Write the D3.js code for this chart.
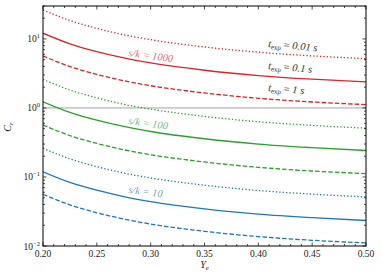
<!DOCTYPE html>
<html>
<head>
<meta charset="utf-8">
<script src="https://cdn.jsdelivr.net/npm/d3@7"></script>
<style>
  body { margin: 0; background: #fff; }
  text { font-family: "Liberation Serif", "DejaVu Serif", serif; }
</style>
</head>
<body>
<div id="vis"></div>
<script>
// frame
const FRAME_WIDTH = 382
const FRAME_HEIGHT = 279
const MARGINS = {left: 43, right: 16, top: 6, bottom: 33}

// data
const ye = [0.20, 0.225, 0.25, 0.275, 0.30, 0.35, 0.40, 0.45, 0.50]

const red_dotted  = [26.3, 18.5, 14.2, 11.5, 9.76, 7.65, 6.42, 5.68, 5.18]
const red_solid   = [12.1, 8.49, 6.53, 5.30, 4.49, 3.52, 2.95, 2.61, 2.38]
const red_dashed  = [5.67, 3.98, 3.06, 2.48, 2.10, 1.65, 1.38, 1.22, 1.12]
const green_dotted = [2.59, 1.82, 1.40, 1.13, 0.961, 0.754, 0.632, 0.559, 0.510]
const green_solid  = [1.23, 0.863, 0.664, 0.539, 0.456, 0.358, 0.300, 0.266, 0.242]
const green_dashed = [0.567, 0.398, 0.306, 0.248, 0.210, 0.165, 0.138, 0.122, 0.112]
const blue_dotted = [0.261, 0.183, 0.141, 0.114, 0.0968, 0.0760, 0.0637, 0.0564, 0.0514]
const blue_solid  = [0.119, 0.0835, 0.0643, 0.0521, 0.0441, 0.0346, 0.0290, 0.0257, 0.0234]
const blue_dashed = [0.0561, 0.0394, 0.0303, 0.0246, 0.0208, 0.0163, 0.0137, 0.0121, 0.0111]

const x_ticks = [0.20, 0.25, 0.30, 0.35, 0.40, 0.45, 0.50]
const y_ticks = [0.01, 0.1, 1, 10]
const y_tick_exp = ["−2", "−1", "0", "1"]

const sk_labels = ["1000", "100", "10"]
const t_labels = ["0.01", "0.1", "1"]

const RED = "#d62728", GREEN = "#2ca02c", BLUE = "#1f77b4"
const DOTTED = "1.3,2.1", DASHED = "4.6,2"

const series = [
  {v: red_dotted, c: RED, d: DOTTED}, {v: red_solid, c: RED, d: null}, {v: red_dashed, c: RED, d: DASHED},
  {v: green_dotted, c: GREEN, d: DOTTED}, {v: green_solid, c: GREEN, d: null}, {v: green_dashed, c: GREEN, d: DASHED},
  {v: blue_dotted, c: BLUE, d: DOTTED}, {v: blue_solid, c: BLUE, d: null}, {v: blue_dashed, c: BLUE, d: DASHED}
]

const svg = d3.select("#vis").append("svg")
  .attr("width", FRAME_WIDTH)
  .attr("height", FRAME_HEIGHT)

const x = d3.scaleLinear().domain([0.2, 0.5]).range([MARGINS.left, FRAME_WIDTH - MARGINS.right])
const y = d3.scaleLog().domain([0.01, 30]).range([FRAME_HEIGHT - MARGINS.bottom, MARGINS.top])

const x0 = x.range()[0], x1 = x.range()[1]
const yb = y.range()[0], yt = y.range()[1]

// clip
svg.append("clipPath").attr("id", "clip")
  .append("rect").attr("x", x0).attr("y", yt).attr("width", x1 - x0).attr("height", yb - yt)

// reference line at 1
svg.append("line")
  .attr("x1", x0).attr("x2", x1).attr("y1", y(1)).attr("y2", y(1))
  .attr("stroke", "#999").attr("stroke-width", 0.9)

// curves
const line = d3.line().x((d, i) => x(ye[i])).y(d => y(d)).curve(d3.curveMonotoneX)
svg.append("g").attr("clip-path", "url(#clip)")
  .selectAll("path").data(series).enter().append("path")
  .attr("d", s => line(s.v))
  .attr("fill", "none")
  .attr("stroke", s => s.c)
  .attr("stroke-width", 1.3)
  .attr("stroke-dasharray", s => s.d)

// ticks (inward, all four sides)
const minor_x = d3.range(0.20, 0.5001, 0.01)
const minor_y = []
for (let e = -2; e <= 1; e++) for (let m = 2; m <= 9; m++) if (m * Math.pow(10, e) <= 30) minor_y.push(m * Math.pow(10, e))

const tk = svg.append("g").attr("stroke", "#000").attr("stroke-width", 0.7)
minor_x.forEach(v => {
  const major = x_ticks.some(t => Math.abs(t - v) < 1e-6)
  const L = major ? 3.5 : 2
  tk.append("line").attr("x1", x(v)).attr("x2", x(v)).attr("y1", yb).attr("y2", yb - L)
  tk.append("line").attr("x1", x(v)).attr("x2", x(v)).attr("y1", yt).attr("y2", yt + L)
})
y_ticks.forEach(v => {
  tk.append("line").attr("x1", x0).attr("x2", x0 + 3.5).attr("y1", y(v)).attr("y2", y(v))
  tk.append("line").attr("x1", x1).attr("x2", x1 - 3.5).attr("y1", y(v)).attr("y2", y(v))
})
minor_y.forEach(v => {
  tk.append("line").attr("x1", x0).attr("x2", x0 + 2).attr("y1", y(v)).attr("y2", y(v))
  tk.append("line").attr("x1", x1).attr("x2", x1 - 2).attr("y1", y(v)).attr("y2", y(v))
})

// frame
svg.append("rect")
  .attr("x", x0).attr("y", yt).attr("width", x1 - x0).attr("height", yb - yt)
  .attr("fill", "none").attr("stroke", "#000").attr("stroke-width", 1)

// x tick labels
svg.append("g").selectAll("text").data(x_ticks).enter().append("text")
  .attr("x", d => x(d)).attr("y", yb + 11)
  .attr("text-anchor", "middle").attr("font-size", "9.5px").attr("fill", "#222")
  .text(d => d.toFixed(2))

// y tick labels
y_ticks.forEach((v, i) => {
  const t = svg.append("text").attr("x", x0 - 3).attr("y", y(v) + 3.5)
    .attr("text-anchor", "end").attr("font-size", "9.5px").attr("fill", "#222")
  t.append("tspan").text("10")
  t.append("tspan").attr("dy", -4).attr("font-size", "6.5px").text(y_tick_exp[i])
})

// axis labels
const xl = svg.append("text").attr("x", (x0 + x1) / 2).attr("y", yb + 22)
  .attr("text-anchor", "middle").attr("font-size", "10px").attr("fill", "#222")
xl.append("tspan").attr("font-style", "italic").text("Y")
xl.append("tspan").attr("font-style", "italic").attr("font-size", "7px").attr("dy", 2).text("e")

const yl = svg.append("text").attr("transform", "translate(11," + ((yt + yb) / 2 + 1) + ") rotate(-90)")
  .attr("text-anchor", "middle").attr("font-size", "10px").attr("fill", "#222")
yl.append("tspan").attr("font-style", "italic").text("C")
yl.append("tspan").attr("font-style", "italic").attr("font-size", "7px").attr("dy", 2).text("r")

// s/k labels
const sk_pos = [[128, 56, 8, RED], [128, 124, 8, GREEN], [128, 193, 7, BLUE]]
sk_labels.forEach((s, i) => {
  const p = sk_pos[i]
  svg.append("text")
    .attr("transform", "translate(" + p[0] + "," + p[1] + ") rotate(" + p[2] + ")")
    .attr("font-size", "10.5px").attr("font-style", "italic")
    .attr("fill", p[3]).attr("fill-opacity", 0.7)
    .text("s/k = " + s)
})

// t_exp labels
const t_pos = [[268, 47], [268, 69], [268, 91]]
t_labels.forEach((s, i) => {
  const t = svg.append("text")
    .attr("transform", "translate(" + t_pos[i][0] + "," + t_pos[i][1] + ") rotate(5)")
    .attr("font-size", "10.5px").attr("fill", "#333")
  t.append("tspan").attr("font-style", "italic").text("t")
  t.append("tspan").attr("font-size", "7px").attr("dy", 2).text("exp")
  t.append("tspan").attr("dy", -2).text(" = ")
  t.append("tspan").attr("font-style", "italic").text(s + " s")
})
</script>
</body>
</html>
